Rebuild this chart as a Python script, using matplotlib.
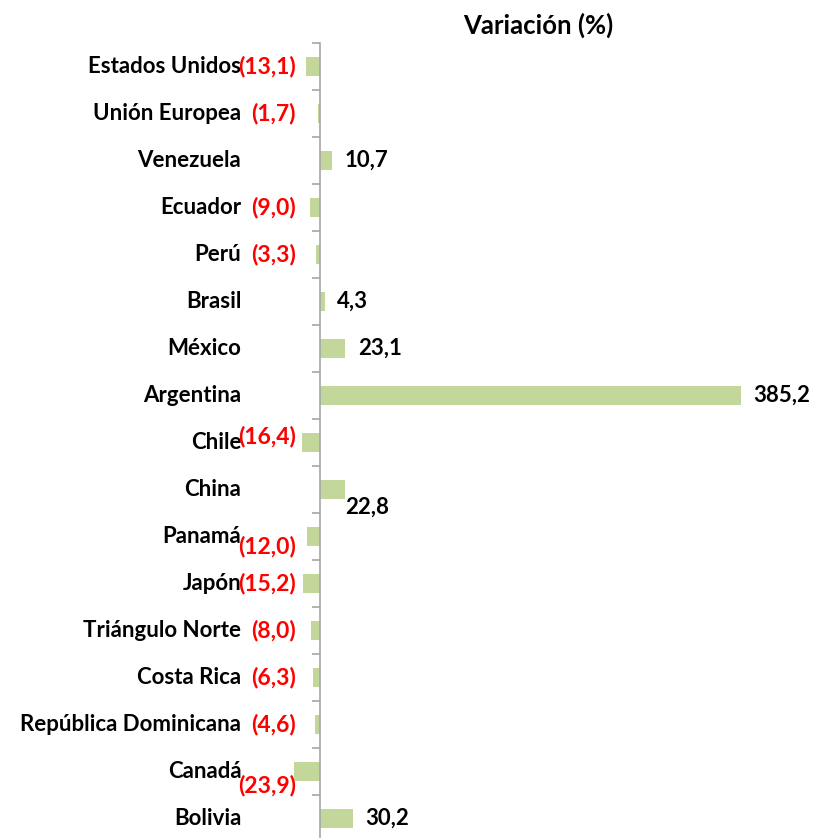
import matplotlib.pyplot as plt

plt.rcParams['font.family'] = ['Lato', 'DejaVu Sans']

paises = ['Estados Unidos', 'Unión Europea', 'Venezuela', 'Ecuador', 'Perú',
          'Brasil', 'México', 'Argentina', 'Chile', 'China', 'Panamá', 'Japón',
          'Triángulo Norte', 'Costa Rica', 'República Dominicana', 'Canadá',
          'Bolivia']
variacion = [-13.1, -1.7, 10.7, -9.0, -3.3, 4.3, 23.1, 385.2, -16.4, 22.8,
             -12.0, -15.2, -8.0, -6.3, -4.6, -23.9, 30.2]

# manual vertical nudges of some value labels (points, positive = down)
nudge = {'Chile': -4, 'Panamá': 7, 'Canadá': 10, 'China': 13}

fig = plt.figure(figsize=(8.13, 8.38), dpi=100)
W, H = 813, 838
px = 1.093  # pixels per unit
x0 = 320
top, bottom = 43, 842
ax = fig.add_axes([0, 1 - bottom / H, 1, (bottom - top) / H])
ax.set_xlim(-x0 / px, (W - x0) / px)
ax.set_ylim(len(paises) - 0.5, -0.5)

pos = list(range(len(paises)))
ax.barh(pos, variacion, height=0.42, color='#c4d79b', zorder=2)

for s in ['top', 'right', 'bottom']:
    ax.spines[s].set_visible(False)
ax.spines['left'].set_position(('data', 0))
ax.spines['left'].set_color('#a6a6a6')
ax.spines['left'].set_linewidth(1.2)
ax.set_xticks([])
ax.set_yticks([i - 0.5 for i in range(len(paises) + 1)])
ax.set_yticklabels([])
ax.tick_params(axis='y', direction='out', length=6, color='#a6a6a6', width=1.2)

for i, (p, v) in enumerate(zip(paises, variacion)):
    ax.text(-72, i, p, ha='right', va='center', fontsize=16,
            fontweight='bold', color='black')
    dy = nudge.get(p, 0)
    txt = f"{abs(v):.1f}".replace('.', ',')
    if v < 0:
        ax.annotate(f"({txt})", (-22, i), xytext=(0, -dy),
                    textcoords='offset points', ha='right', va='center',
                    fontsize=16.5, fontweight='bold', color='#ff0000')
    else:
        xoff = 0 if p == 'China' else 9
        ax.annotate(txt, (v, i), xytext=(xoff, -dy),
                    textcoords='offset points', ha='left', va='center',
                    fontsize=16, fontweight='bold', color='black')

fig.text(538 / W, 1 - 25 / H, 'Variación (%)', ha='center', va='center',
         fontsize=18.5, fontweight='bold')

fig.savefig('out.png', dpi=100)
